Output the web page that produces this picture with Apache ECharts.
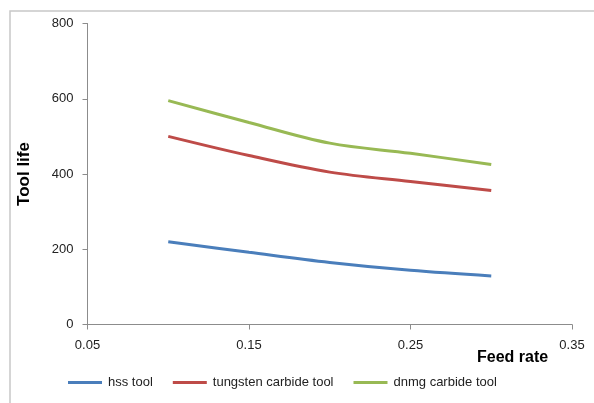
<!DOCTYPE html>
<html>
<head>
<meta charset="utf-8">
<script src="https://cdn.jsdelivr.net/npm/echarts@6/dist/echarts.min.js"></script>
<style>
html,body{margin:0;padding:0;background:#fff;}
#c{width:594px;height:403px;}
</style>
</head>
<body>
<div id="c"></div>
<script>
var feedRates = [0.10, 0.15, 0.20, 0.25, 0.30];
var hssTool = [220, 192, 165, 144, 129];
var tungstenCarbideTool = [500, 449, 405, 380, 356];
var dnmgCarbideTool = [595, 537, 482, 455, 425];
var seriesNames = ['hss tool', 'tungsten carbide tool', 'dnmg carbide tool'];
var seriesColors = ['#4a7ebb', '#be4b48', '#98b954'];
var xTicks = [0.05, 0.15, 0.25, 0.35];
var yTicks = [0, 200, 400, 600, 800];

function pairs(xs, ys){ return xs.map(function(x,i){ return [x, ys[i]]; }); }

var chart = echarts.init(document.getElementById('c'), null, {renderer:'canvas'});
var font = 'Liberation Sans';
var allSeries = [hssTool, tungstenCarbideTool, dnmgCarbideTool].map(function(vals, i){
  return {
    name: seriesNames[i],
    type: 'line',
    data: pairs(feedRates, vals),
    smooth: 0.35,
    showSymbol: false,
    symbol: 'none',
    lineStyle: {color: seriesColors[i], width: 3},
    itemStyle: {color: seriesColors[i]},
    animation: false
  };
});

chart.setOption({
  animation: false,
  backgroundColor: '#ffffff',
  grid: {left: 87.5, right: 22, top: 23.5, bottom: 78.5, containLabel: false},
  xAxis: {
    type: 'value',
    min: xTicks[0], max: xTicks[xTicks.length-1], interval: 0.1,
    axisLine: {lineStyle: {color: '#8c8c8c', width: 1}},
    axisTick: {show: true, length: 5, lineStyle: {color: '#8c8c8c'}},
    splitLine: {show: false},
    axisLabel: {color: '#222', fontFamily: font, fontSize: 13, margin: 14,
      formatter: function(v){ return (Math.round(v*100)/100).toFixed(2); }}
  },
  yAxis: {
    type: 'value',
    min: yTicks[0], max: yTicks[yTicks.length-1], interval: 200,
    name: 'Tool life', nameLocation: 'middle', nameGap: 55, nameRotate: 90,
    nameTextStyle: {color: '#000', fontFamily: font, fontSize: 17, fontWeight: 'bold'},
    axisLine: {show: true, lineStyle: {color: '#8c8c8c', width: 1}},
    axisTick: {show: true, length: 5, lineStyle: {color: '#8c8c8c'}},
    splitLine: {show: false},
    axisLabel: {color: '#222', fontFamily: font, fontSize: 13, margin: 14}
  },
  legend: {
    left: 63, top: 371,
    icon: 'rect', itemWidth: 34, itemHeight: 3, itemGap: 20,
    textStyle: {color: '#222', fontFamily: font, fontSize: 13, padding: [0,0,0,1]},
    data: seriesNames
  },
  graphic: [
    {type: 'rect', left: 7.5, top: 8.5, silent: true,
      shape: {x: 0, y: 0, width: 640, height: 440},
      style: {fill: 'none', stroke: '#c8c8c8', lineWidth: 1.5}},
    {type: 'text', left: 477, top: 350,
      style: {text: 'Feed rate', fill: '#000', font: 'bold 16px "Liberation Sans"'}}
  ],
  series: allSeries
});
</script>
</body>
</html>
